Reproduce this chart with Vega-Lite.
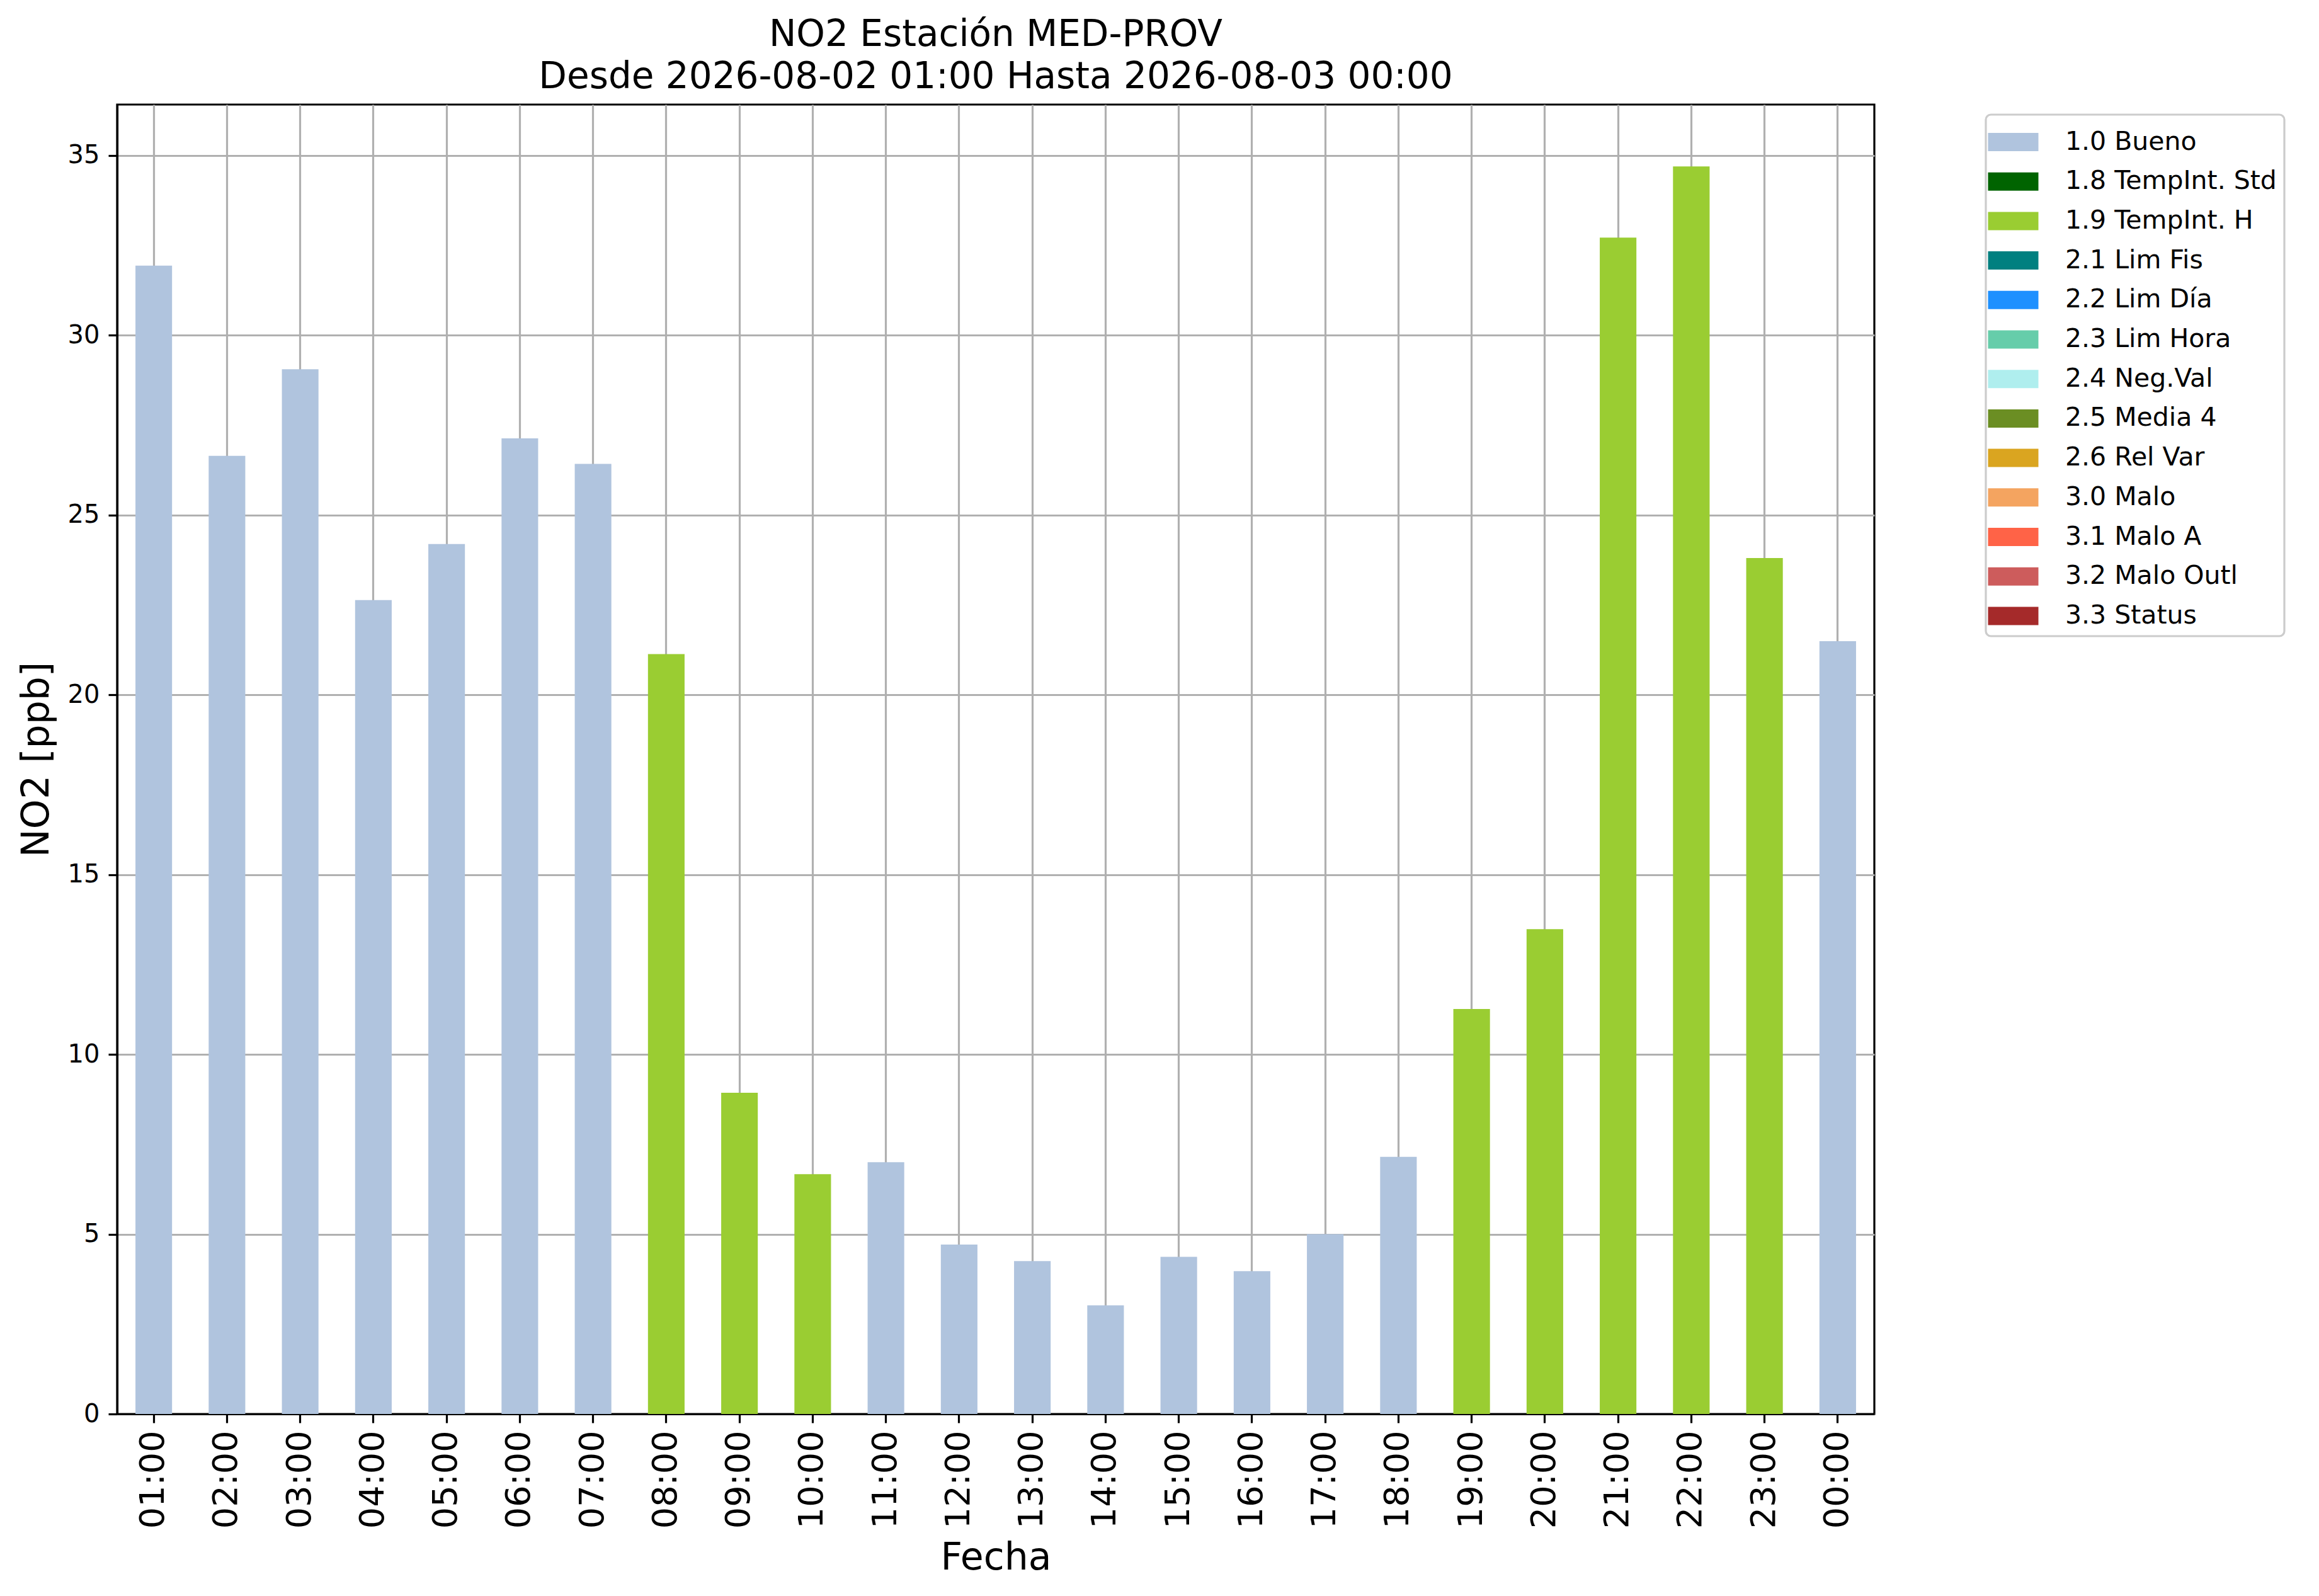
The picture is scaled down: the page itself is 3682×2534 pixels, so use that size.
{
  "$schema": "https://vega.github.io/schema/vega-lite/v6.json",
  "width": 2790,
  "height": 2079,
  "autosize": {"type": "none"},
  "padding": {"left": 186, "top": 166, "right": 706, "bottom": 289},
  "background": "white",
  "title": {
    "text": ["NO2 Estación MED-PROV", "Desde 2026-08-02 01:00 Hasta 2026-08-03 00:00"],
    "font": "DejaVu Sans",
    "fontSize": 58,
    "fontWeight": "normal",
    "color": "black",
    "anchor": "middle",
    "frame": "group",
    "offset": 14,
    "lineHeight": 67
  },
  "data": {
    "values": [
      {"hora": "01:00", "no2": 31.93, "flag": "1.0 Bueno"},
      {"hora": "02:00", "no2": 26.64, "flag": "1.0 Bueno"},
      {"hora": "03:00", "no2": 29.05, "flag": "1.0 Bueno"},
      {"hora": "04:00", "no2": 22.63, "flag": "1.0 Bueno"},
      {"hora": "05:00", "no2": 24.19, "flag": "1.0 Bueno"},
      {"hora": "06:00", "no2": 27.13, "flag": "1.0 Bueno"},
      {"hora": "07:00", "no2": 26.42, "flag": "1.0 Bueno"},
      {"hora": "08:00", "no2": 21.13, "flag": "1.9 TempInt. H"},
      {"hora": "09:00", "no2": 8.93, "flag": "1.9 TempInt. H"},
      {"hora": "10:00", "no2": 6.67, "flag": "1.9 TempInt. H"},
      {"hora": "11:00", "no2": 7.0, "flag": "1.0 Bueno"},
      {"hora": "12:00", "no2": 4.71, "flag": "1.0 Bueno"},
      {"hora": "13:00", "no2": 4.25, "flag": "1.0 Bueno"},
      {"hora": "14:00", "no2": 3.02, "flag": "1.0 Bueno"},
      {"hora": "15:00", "no2": 4.37, "flag": "1.0 Bueno"},
      {"hora": "16:00", "no2": 3.97, "flag": "1.0 Bueno"},
      {"hora": "17:00", "no2": 5.0, "flag": "1.0 Bueno"},
      {"hora": "18:00", "no2": 7.15, "flag": "1.0 Bueno"},
      {"hora": "19:00", "no2": 11.26, "flag": "1.9 TempInt. H"},
      {"hora": "20:00", "no2": 13.48, "flag": "1.9 TempInt. H"},
      {"hora": "21:00", "no2": 32.71, "flag": "1.9 TempInt. H"},
      {"hora": "22:00", "no2": 34.69, "flag": "1.9 TempInt. H"},
      {"hora": "23:00", "no2": 23.8, "flag": "1.9 TempInt. H"},
      {"hora": "00:00", "no2": 21.49, "flag": "1.0 Bueno"}
    ]
  },
  "mark": {"type": "bar"},
  "encoding": {
    "x": {
      "field": "hora",
      "type": "ordinal",
      "sort": null,
      "scale": {"paddingInner": 0.5, "paddingOuter": 0.25},
      "axis": {
        "title": "Fecha",
        "labelAngle": -90,
        "labelFontSize": 54,
        "labelPadding": 12,
        "titlePadding": 18,
        "bandPosition": 0.5,
        "grid": true
      }
    },
    "y": {
      "field": "no2",
      "type": "quantitative",
      "scale": {"domain": [0, 36.41], "nice": false},
      "axis": {
        "title": "NO2 [ppb]",
        "values": [0, 5, 10, 15, 20, 25, 30, 35],
        "labelFontSize": 40,
        "labelPadding": 14,
        "titlePadding": 18,
        "grid": true
      }
    },
    "color": {
      "field": "flag",
      "type": "nominal",
      "scale": {
        "domain": ["1.0 Bueno", "1.8 TempInt. Std", "1.9 TempInt. H", "2.1 Lim Fis", "2.2 Lim Día", "2.3 Lim Hora", "2.4 Neg.Val", "2.5 Media 4", "2.6 Rel Var", "3.0 Malo", "3.1 Malo A", "3.2 Malo Outl", "3.3 Status"],
        "range": ["#b0c4de", "#006400", "#9acd32", "#008080", "#1e90ff", "#66cdaa", "#afeeee", "#6b8e23", "#daa520", "#f4a460", "#ff6347", "#cd5c5c", "#a52a2a"]
      },
      "legend": {
        "title": null,
        "orient": "none",
        "legendX": 2967,
        "legendY": 16,
        "symbolType": "M-1.274,-0.462L1.274,-0.462L1.274,0.462L-1.274,0.462Z",
        "symbolSize": 3943,
        "symbolStrokeWidth": 0,
        "symbolOpacity": 1,
        "labelFont": "DejaVu Sans",
        "labelFontSize": 41,
        "labelColor": "black",
        "labelOffset": 51,
        "labelLimit": 1000,
        "rowPadding": 10.7,
        "padding": 12,
        "strokeColor": "#cccccc",
        "fillColor": "white",
        "cornerRadius": 8,
        "encode": {
          "legend": {"update": {"strokeWidth": {"value": 3.2}}}
        }
      }
    }
  },
  "config": {
    "font": "DejaVu Sans",
    "view": {"stroke": "black", "strokeWidth": 3.2},
    "axis": {
      "labelFont": "DejaVu Sans",
      "labelColor": "black",
      "titleFont": "DejaVu Sans",
      "titleFontSize": 60,
      "titleFontWeight": "normal",
      "titleColor": "black",
      "tickColor": "black",
      "tickSize": 14,
      "tickWidth": 3.2,
      "domainColor": "black",
      "domainWidth": 3.2,
      "gridColor": "#b0b0b0",
      "gridWidth": 3.2,
      "gridOpacity": 1,
      "zindex": 1
    }
  }
}
